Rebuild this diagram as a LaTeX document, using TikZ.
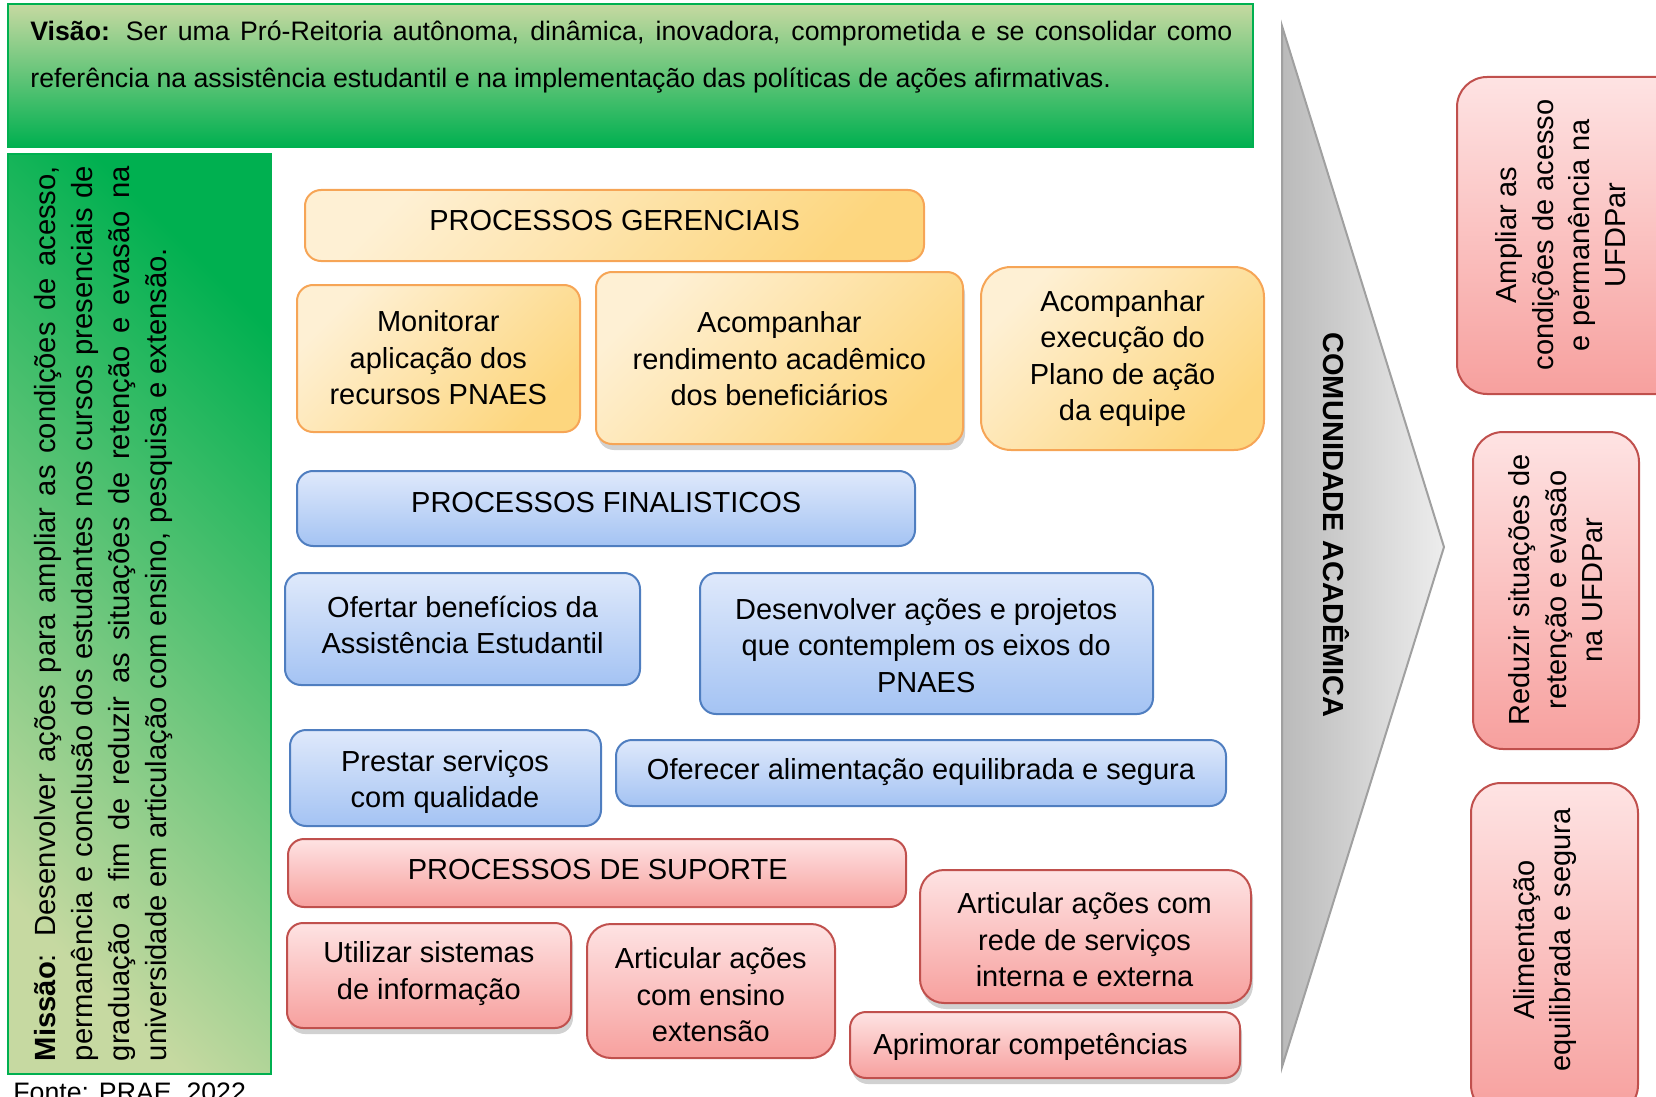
\documentclass[tikz,border=0pt]{standalone}
\usepackage{fontspec}
\setmainfont{Liberation Sans}
\usetikzlibrary{fit,shadows}
\definecolor{oT}{HTML}{FEF0D4}
\definecolor{oB}{HTML}{FDD67E}
\definecolor{oD}{HTML}{F6A556}
\definecolor{bT}{HTML}{DFE9FB}
\definecolor{bB}{HTML}{A4C3F3}
\definecolor{bD}{HTML}{4F7EC0}
\definecolor{rT}{HTML}{FEE3E3}
\definecolor{rB}{HTML}{F7A09E}
\definecolor{rD}{HTML}{C0504D}
\definecolor{gT}{HTML}{C6D9A1}
\definecolor{gB}{HTML}{00B050}
\definecolor{grD}{HTML}{A0A0A0}
\newcommand\bxf{\fontsize{14.5}{18.2}\selectfont}
\begin{document}
\begin{tikzpicture}[x=0.5pt,y=-0.5pt,
 box/.style={rounded corners=8pt, line width=1pt, inner sep=0pt},
 obox/.style={box, draw=oD, top color=oT, bottom color=oB, shading angle=45},
 bbox/.style={box, draw=bD, top color=bT, bottom color=bB},
 rbox/.style={box, draw=rD, top color=rT, bottom color=rB},
 gbox/.style={draw=gB, line width=1pt, inner sep=0pt},
 shd/.style={drop shadow={shadow xshift=1pt, shadow yshift=-3pt, opacity=0.3, fill=black!60}},
 txt/.style={inner sep=0pt, font=\bxf, align=center},
]
\useasboundingbox (0,0) rectangle (1656,1097);

% Vision
\node[gbox, fit={(8,4)(1253,147)}, top color=gT, middle color=gT!65!gB, bottom color=gB] (vis) {};
\node[anchor=west, text width=601pt, align=justify, inner sep=0pt,
      font=\fontsize{13.35}{23.2}\selectfont] (vist) at (30,57)
 {\textbf{Visão:} Ser uma Pró-Reitoria autônoma, dinâmica, inovadora, comprometida e se consolidar como\linebreak referência na assistência estudantil e na implementação das políticas de ações afirmativas.};

% Mission
\node[gbox, fit={(8,154)(271,1074)}, top color=gB, bottom color=gT, shading angle=-45] (mis) {};
\node[rotate=90, text width=447.5pt, align=justify, inner sep=0pt,
      font=\fontsize{14.6}{18.5}\selectfont] (mist) at (104,613.5)
 {\textbf{Missão}: Desenvolver ações para ampliar as condições de acesso,\linebreak permanência e conclusão dos estudantes nos cursos presenciais de\linebreak graduação a fim de reduzir as situações de retenção e evasão na\linebreak universidade em articulação com ensino, pesquisa e extensão.};

\node[anchor=base west, inner sep=0pt, font=\fontsize{13.35}{16}\selectfont] (fonte) at (13,1101) {Fonte: PRAE, 2022};

% Orange
\node[obox, fit={(305,190)(924,261)}] (pg) {};
\node[txt] (pgt) at (614.6,220.7) {PROCESSOS GERENCIAIS};
\node[obox, fit={(297,285)(580,432)}] (mon) {};
\node[txt] (mont) at (438.3,358) {Monitorar\\aplicação dos\\recursos PNAES};
\node[obox, shd, fit={(596,272)(963,444)}] (acr) {};
\node[txt] (acrt) at (779.4,359) {Acompanhar\\rendimento acadêmico\\dos beneficiários};
\node[obox, rounded corners=15pt, fit={(981,267)(1264,450)}] (ace) {};
\node[txt] (acet) at (1122.6,358.5) {Acompanhar\\execução do\\Plano de ação\\da equipe};

% Blue
\node[bbox, fit={(297,471)(915,546)}] (pf) {};
\node[txt] (pft) at (606.2,502.7) {PROCESSOS FINALISTICOS};
\node[bbox, fit={(285,573)(640,685)}] (ofe) {};
\node[txt] (ofet) at (462.6,625.2) {Ofertar benefícios da\\Assistência Estudantil};
\node[bbox, fit={(700,573)(1153,714)}] (des) {};
\node[txt] (dest) at (926.2,645.3) {Desenvolver ações e projetos\\que contemplem os eixos do\\PNAES};
\node[bbox, fit={(290,730)(601,826)}] (pre) {};
\node[txt] (pret) at (445,782) {Prestar serviços\\com qualidade};
\node[bbox, fit={(616,740)(1226,806)}] (ali) {};
\node[txt] (alit) at (921,772) {Oferecer alimentação equilibrada e segura};

% Red
\node[rbox, fit={(288,839)(906,907)}] (ps) {};
\node[txt] (pst) at (597.7,869.2) {PROCESSOS DE SUPORTE};
\node[rbox, shd, fit={(287,923)(571,1028)}] (uti) {};
\node[txt] (utit) at (428.8,973.7) {Utilizar sistemas\\de informação};
\node[rbox, rounded corners=12pt, fit={(587,924)(835,1058)}] (ens) {};
\node[txt] (enst) at (710.8,994.8) {Articular ações\\com ensino\\extensão};
\node[rbox, shd, rounded corners=12pt, fit={(920,870)(1251,1003)}] (rede) {};
\node[txt] (redet) at (1084.6,940) {Articular ações com\\rede de serviços\\interna e externa};
\node[rbox, shd, fit={(850,1012)(1240,1078)}] (apr) {};
\node[txt, anchor=west] (aprt) at (873,1046.5) {Aprimorar competências};

% Arrow
\path[draw=grD, line width=1pt, left color=black!27, right color=black!7] (1282,26) -- (1444,547) -- (1282,1067) -- cycle;
\node[rotate=-90, inner sep=0pt, font=\bxf\bfseries] (com) at (1336,525) {COMUNIDADE ACADÊMICA};

% Right boxes
\node[rbox, rounded corners=15pt, fit={(1457,77)(1690,394)}] (r1) {};
\node[txt, rotate=90] (r1t) at (1561,235) {Ampliar as\\condições de acesso\\e permanência na\\UFDPar};
\node[rbox, rounded corners=15pt, fit={(1473,432)(1639,749)}] (r2) {};
\node[txt, rotate=90] (r2t) at (1556,590) {Reduzir situações de\\retenção e evasão\\na UFDPar};
\node[rbox, rounded corners=15pt, fit={(1471,783)(1638,1115)}] (r3) {};
\node[txt, rotate=90] (r3t) at (1545,940) {Alimentação\\equilibrada e segura};
\end{tikzpicture}
\end{document}
